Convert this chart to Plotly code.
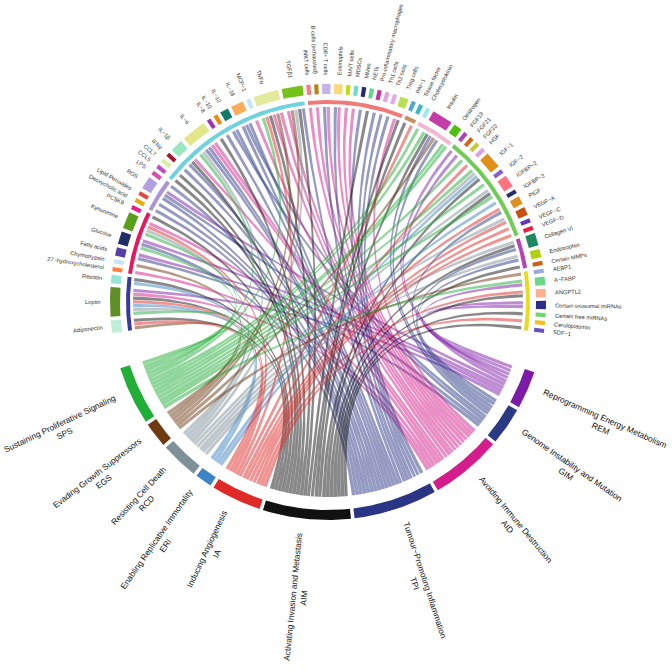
import numpy as np
import plotly.graph_objects as go

# ---------- data ----------
hallmark_names = ["Reprogramming Energy Metabolism", "Genome Instability and Mutation",
                  "Avoiding Immune Destruction", "Tumour−Promoting Inflammation",
                  "Activating Invasion and Metastasis", "Inducing Angiogenesis",
                  "Enabling Replicative Immortality", "Resisting Cell Death",
                  "Evading Growth Suppressors", "Sustaining Proliferative Signaling"]
hallmark_codes = ["REM", "GIM", "AID", "TPI", "AIM", "IA", "ERI", "RCD", "EGS", "SPS"]
hallmark_colors = ["#7d1aa8", "#2a3a85", "#d41c8c", "#2b3585", "#111111",
                   "#e02a28", "#3d84c6", "#7e9098", "#6e3a12", "#1fae36"]

group_colors = ["#3a3a9e", "#e8185f", "#a893dc", "#6fd3de", "#f07a78",
                "#c98d5e", "#f5b5d5", "#70cc55", "#b844b0", "#e8dc1e"]

factor_names = ["Adiponectin", "Leptin", "Resistin", "27−hydroxycholesterol", "Chymotrypsin",
                "Fatty acids", "Glucose", "Kynurenine", "PCSK9", "Deoxycholic acid",
                "Lipid Peroxides", "ROS", "LPS", "CCL5", "CCL7", "IFNγ", "IL−1β", "IL−6",
                "IL−8", "IL−10", "IL−12", "IL−18", "MCP−1", "TNFα", "TGFβ1", "iNKT cells",
                "B cells (exhausted)", "CD8+ T cells", "Eosinophils", "MAIT cells", "MDSCs",
                "MMes", "NETs", "Pro-inflammatory macrophages", "Th1 cells", "Th2 cells",
                "Treg cells", "PAI−1", "Tissue factor", "Cholecystokinin", "Insulin",
                "Oestrogen", "FGF19", "FGF21", "FGF23", "HGF", "IGF−1", "IGF−2", "IGFBP−2",
                "IGFBP−3", "PlGF", "VEGF−A", "VEGF−C", "VEGF−D", "Collagen VI", "Endotrophin",
                "Certain MMPs", "AEBP1", "A−FABP", "ANGPTL2", "Certain exosomal miRNAs",
                "Certain free miRNAs", "Ceruloplasmin", "SDF−1"]
factor_groups = [0]*3 + [1]*6 + [2]*4 + [3]*12 + [4]*12 + [5]*2 + [6]*3 + [7]*12 + [8]*3 + [9]*7
factor_colors = ["#bfeed8", "#5f8f26", "#98e5d7", "#ff8040", "#c5e4f5", "#5a3ea8", "#1f2e66",
                 "#5a9e1c", "#e8218a", "#e8ab12", "#e04a40", "#b19fdf", "#d94fa6", "#b94fc0",
                 "#d8efa0", "#a8182c", "#9be8c0", "#e3e78a", "#a431ad", "#ee8a10", "#127a6a",
                 "#f9ac5c", "#c5e4f7", "#e3ea9c", "#74c21a", "#f87c7c", "#b8860f", "#c3b3e8",
                 "#fbd878", "#c4dc10", "#72dccc", "#262670", "#65d890", "#c034a0", "#e6a0e6",
                 "#e6a8e6", "#b8e050", "#50a8d8", "#30bcc0", "#a0e8e8", "#c43ca8", "#50c010",
                 "#a843b8", "#d06818", "#c8c838", "#dca0e8", "#e09018", "#8860d0", "#ff7080",
                 "#203070", "#e09020", "#c85010", "#6038b8", "#e82040", "#208860", "#b0d010",
                 "#d06010", "#98a8e0", "#68d888", "#ffb090", "#2c2c8c", "#70d870", "#f0c020",
                 "#6850c0"]
factor_links = [
    ["EGS", "IA", "AIM"],
    ["SPS", "RCD", "ERI", "IA", "AIM", "AID", "REM"],
    ["ERI", "AIM"],
    ["AID"], ["EGS"], ["GIM", "REM"], ["SPS", "TPI", "REM"], ["SPS", "RCD", "IA", "AID"], ["AIM"],
    ["TPI"], ["TPI"], ["TPI", "GIM", "REM"], ["TPI"],
    ["AIM"], ["AIM"], ["TPI"], ["TPI", "AIM", "AID"], ["SPS", "RCD", "TPI", "TPI", "AID", "AID"], ["AIM"],
    ["TPI"], ["GIM", "TPI"], ["TPI", "GIM", "TPI"], ["AID"], ["SPS", "IA", "AIM", "AID", "EGS", "AID"],
    ["AID", "EGS", "RCD", "AIM", "TPI"],
    ["AID"], ["AID"], ["TPI", "AID"], ["TPI", "AID"], ["AID"], ["AID"], ["TPI"], ["AIM"], ["TPI"],
    ["TPI"], ["TPI"], ["AID", "AIM"],
    ["AIM"], ["IA"],
    ["SPS"], ["SPS", "AIM", "GIM", "EGS", "GIM"], ["SPS", "SPS"],
    ["REM"], ["REM"], ["SPS"], ["IA"], ["SPS", "RCD", "ERI", "AIM"], ["SPS"], ["RCD", "AIM", "SPS"],
    ["ERI"], ["IA", "GIM"], ["RCD", "IA"], ["IA"], ["IA"],
    ["RCD", "AIM", "GIM"], ["RCD", "GIM"], ["AIM"],
    ["EGS"], ["SPS", "REM"], ["IA", "AIM"], ["REM", "REM"], ["AIM"], ["IA"], ["AIM"],
]

# ---------- layout of the ring ----------
CX, CY = 328.0, 302.0
R_OUT, R_IN = 218.0, 208.0
RG_OUT, RG_IN = 202.0, 198.0
R_LINK = 195.0
TOP_START, TOP_END = -98.2, 98.2
BOT_START, BOT_END = 108.8, 252.3
GAP = 0.97
BOT_GAP = 0.95
ALPHA = 0.5


def pt(theta, r):
    t = np.radians(theta)
    return CX + r*np.sin(t), CY - r*np.cos(t)


def hex_rgba(c, a):
    return f"rgba({int(c[1:3],16)},{int(c[3:5],16)},{int(c[5:7],16)},{a})"


def arc_band(t0, t1, r0, r1):
    th = np.linspace(t0, t1, max(4, int(abs(t1-t0)*2)+2))
    xo, yo = pt(th, r0)
    xi, yi = pt(th[::-1], r1)
    return np.r_[xo, xi, xo[0]], np.r_[yo, yi, yo[0]]


def text_width(s, size):
    w = 0
    for ch in s:
        if ch in "ijl": w += 222
        elif ch in "Ift ": w += 278
        elif ch in "-r": w += 333
        elif ch in "cksvxyzJγ": w += 500
        elif ch in "abdeghnopqu0123456789β": w += 556
        elif ch in "LFTZ": w += 611 if ch != "L" else 556
        elif ch in "−+α": w += 584
        elif ch in "ABEKPSVXY": w += 667
        elif ch in "CDHNRUw": w += 722
        elif ch in "GOQ": w += 778
        elif ch in "Mm": w += 833
        else: w += 556
    return w/1000*size


def label_angle(th):
    th = th % 360
    return th - 90 if th < 180 else th - 270


fig = go.Figure()


def add_poly(x, y, color):
    fig.add_trace(go.Scatter(x=x, y=y, mode="lines", fill="toself", fillcolor=color,
                             line=dict(width=0), hoverinfo="skip", showlegend=False))


# angular scale: same unit on both halves of the circle
n_units = sum(len(l) for l in factor_links)
n_f = len(factor_names)
u_top = (TOP_END - TOP_START - (n_f-1)*GAP)/n_units
u_bot = (BOT_END - BOT_START - (len(hallmark_codes)-1)*BOT_GAP)/n_units

# top sectors
f_spans, link_top, cur = [], [], TOP_START
for i, links in enumerate(factor_links):
    s, e = cur, cur + len(links)*u_top
    f_spans.append((s, e))
    for k, h in enumerate(links):
        a = s + k*u_top
        link_top.append((h, a + 0.08*u_top, a + 0.92*u_top, i))
    cur = e + GAP

# bottom sectors
h_spans, link_pairs, cur = {}, [], BOT_START
for code in hallmark_codes:
    mine = [l for l in link_top if l[0] == code]
    mine.sort(key=lambda l: -l[1])
    s = cur
    for k, l in enumerate(mine):
        a = s + k*u_bot
        link_pairs.append((code, l[1], l[2], a + 0.015*u_bot, a + 0.985*u_bot))
    cur = s + len(mine)*u_bot
    h_spans[code] = (s, cur)
    cur += BOT_GAP

# links (green and salmon end up on top, as in the picture)
ts = np.linspace(0, 1, 50)
code_color = dict(zip(hallmark_codes, hallmark_colors))
order = ["REM", "GIM", "AID", "TPI", "AIM", "ERI", "RCD", "EGS", "IA", "SPS"]
for code in order:
    for c, a0, a1, b0, b1 in [p for p in link_pairs if p[0] == code]:
        p0 = np.array(pt(a1, R_LINK))
        p1 = np.array(pt(b0, R_LINK))
        q0 = np.array(pt(b1, R_LINK))
        q1 = np.array(pt(a0, R_LINK))
        ctr = np.array([CX, CY])
        bez1 = np.outer((1-ts)**2, p0) + np.outer(2*ts*(1-ts), ctr) + np.outer(ts**2, p1)
        bez2 = np.outer((1-ts)**2, q0) + np.outer(2*ts*(1-ts), ctr) + np.outer(ts**2, q1)
        xa, ya = pt(np.linspace(a0, a1, 4), R_LINK)
        xb, yb = pt(np.linspace(b0, b1, 6), R_LINK)
        x = np.r_[xa, bez1[:, 0], xb, bez2[:, 0]]
        y = np.r_[ya, bez1[:, 1], yb, bez2[:, 1]]
        add_poly(x, y, hex_rgba(code_color[c], ALPHA))

# factor sectors + labels
annotations = []
FS = 5.7
for (s, e), name, col in zip(f_spans, factor_names, factor_colors):
    x, y = arc_band(s, e, R_OUT, R_IN)
    add_poly(x, y, col)
    mid = (s+e)/2
    r = 227 + text_width(name, FS)/2
    ax, ay = pt(mid, r)
    annotations.append(dict(x=ax, y=ay, text=name, textangle=label_angle(mid), showarrow=False,
                            xanchor="center", yanchor="middle",
                            font=dict(size=FS, color="#333333", family="Liberation Sans")))

# group ring
for g, col in enumerate(group_colors):
    idx = [i for i, v in enumerate(factor_groups) if v == g]
    x, y = arc_band(f_spans[idx[0]][0], f_spans[idx[-1]][1], RG_OUT, RG_IN)
    add_poly(x, y, col)

# hallmark ring + labels
HS = 8.4
for name, code, col in zip(hallmark_names, hallmark_codes, hallmark_colors):
    s, e = h_spans[code]
    x, y = arc_band(s, e, R_OUT, R_IN)
    add_poly(x, y, col)
    mid = (s+e)/2
    r = 233 + text_width(name, HS)/2
    ax, ay = pt(mid, r)
    annotations.append(dict(x=ax, y=ay, text=f"{name}<br>{code}", textangle=label_angle(mid),
                            showarrow=False, xanchor="center", yanchor="middle",
                            font=dict(size=HS, color="#111111", family="Liberation Sans")))

fig.update_layout(
    width=672, height=669, autosize=False, margin=dict(l=0, r=0, t=0, b=0),
    paper_bgcolor="white", plot_bgcolor="white", annotations=annotations, showlegend=False,
    xaxis=dict(range=[0, 672], visible=False, fixedrange=True),
    yaxis=dict(range=[669, 0], visible=False, fixedrange=True),
)
fig.write_html("out.html", config=dict(displayModeBar=False),
               post_script="document.body.style.margin='0';document.body.style.overflow='hidden';")
